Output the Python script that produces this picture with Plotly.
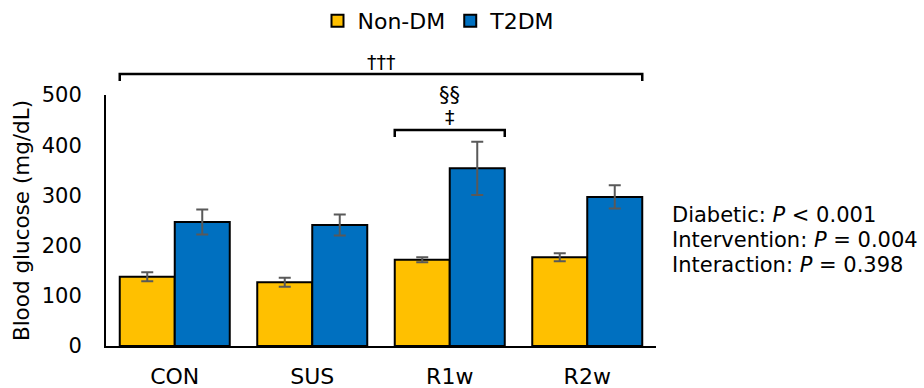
import plotly.graph_objects as go

categories = ["CON", "SUS", "R1w", "R2w"]
non_dm = [138, 127, 172, 177]
non_dm_err = [9, 9, 5, 8]
t2dm = [247, 241, 354, 297]
t2dm_err = [25, 21, 53, 23]
y_ticks = [0, 100, 200, 300, 400, 500]
stats_lines = ["Diabetic: <i>P</i> < 0.001",
               "Intervention: <i>P</i> = 0.004",
               "Interaction: <i>P</i> = 0.398"]

FONT = "DejaVu Sans"
fig = go.Figure()
fig.add_trace(go.Bar(
    x=categories, y=non_dm, name="Non-DM",
    marker=dict(color="#FFC000", line=dict(color="black", width=2)),
    error_y=dict(type="data", array=non_dm_err, color="#595959", thickness=2, width=6),
))
fig.add_trace(go.Bar(
    x=categories, y=t2dm, name="T2DM",
    marker=dict(color="#0070C0", line=dict(color="black", width=2)),
    error_y=dict(type="data", array=t2dm_err, color="#595959", thickness=2, width=6),
))

def px_to_paper(py):
    return (346 - py) / 251.0

def bracket(x0, x1, ytop, ybot):
    fig.add_shape(type="path", xref="x", yref="paper",
                  path=f"M {x0} {ybot} L {x0} {ytop} L {x1} {ytop} L {x1} {ybot}",
                  line=dict(color="black", width=2.5))

bracket(-0.4, 3.4, px_to_paper(74), px_to_paper(81))
bracket(1.6, 2.4, px_to_paper(130), px_to_paper(137))

fig.add_annotation(x=1.5, y=px_to_paper(62), xref="x", yref="paper", text="†††",
                   showarrow=False, yanchor="middle",
                   font=dict(family=FONT, size=19, color="black"))
fig.add_annotation(x=2, y=px_to_paper(117), xref="x", yref="paper", text="‡",
                   showarrow=False, yanchor="middle",
                   font=dict(family=FONT, size=19, color="black"))
fig.add_annotation(x=2, y=px_to_paper(95), xref="x", yref="paper", text="§§",
                   showarrow=False, yanchor="middle",
                   font=dict(family=FONT, size=21, color="black"))

for i, line in enumerate(stats_lines):
    fig.add_annotation(x=(670 - 106) / 550.0, y=px_to_paper(215 + 25 * i),
                       xref="paper", yref="paper", text=line, showarrow=False,
                       xanchor="left", yanchor="middle",
                       font=dict(family=FONT, size=21, color="black"))

fig.update_layout(
    width=924, height=388,
    margin=dict(l=106, r=268, t=95, b=42, autoexpand=False),
    plot_bgcolor="white", paper_bgcolor="white",
    barmode="group", bargap=0.2, bargroupgap=0,
    font=dict(family=FONT, size=22, color="black"),
    showlegend=True,
    legend=dict(orientation="h", x=(439 - 106) / 550.0, xanchor="center", y=px_to_paper(21),
                yanchor="middle", font=dict(family=FONT, size=22),
                itemwidth=30, traceorder="normal"),
    xaxis=dict(showline=True, linecolor="black", linewidth=2, ticks="",
               range=[-0.5, 3.5], showgrid=False, ticklabelstandoff=10,
               tickfont=dict(family=FONT, size=22)),
    yaxis=dict(showline=True, linecolor="black", linewidth=2, ticks="",
               range=[0, 500], tickvals=y_ticks, showgrid=False, zeroline=False,
               ticklabelstandoff=18,
               tickfont=dict(family=FONT, size=21),
               title=dict(text="Blood glucose (mg/dL)", font=dict(family=FONT, size=21.5),
                          standoff=6)),
)

fig.write_html("out.html", config={"displayModeBar": False},
               post_script="document.body.style.margin='0';")
